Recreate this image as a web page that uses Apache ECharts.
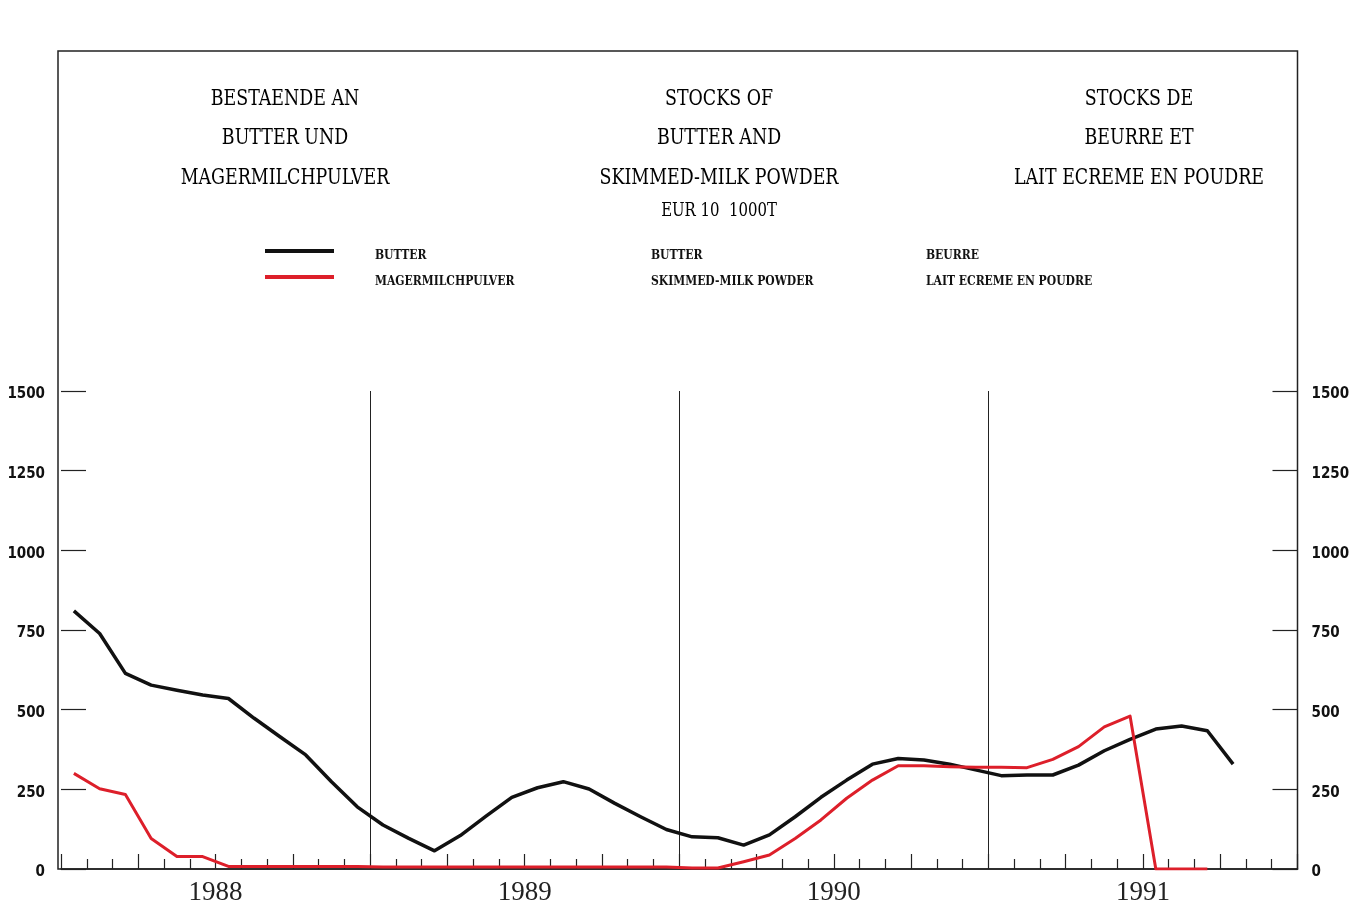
<!DOCTYPE html>
<html>
<head>
<meta charset="utf-8">
<script src="https://cdn.jsdelivr.net/npm/echarts@6/dist/echarts.min.js"></script>
<style>
html,body{margin:0;padding:0;background:#fff;}
#chart{width:1365px;height:904px;}
</style>
</head>
<body>
<div id="chart"></div>
<script>
// Monthly stocks, EUR 10, 1000 t; month 0 = January 1988 (points at mid-month)
const butter = [810, 739, 614, 577, 561, 546, 535, 473, 415, 358, 274, 195,
                138, 96, 57, 105, 166, 225, 255, 274, 251, 206, 164, 124,
                101, 98, 75, 107, 164, 225, 279, 329, 347, 342, 329, 311,
                293, 295, 295, 326, 371, 407, 439, 449, 434, 329];
const skimmedMilk = [300, 252, 234, 96, 39, 39, 8, 8, 8, 8, 8, 8,
                     6, 6, 6, 6, 6, 6, 6, 6, 6, 6, 6, 6,
                     3, 3, 23, 44, 96, 154, 222, 279, 324, 324, 321, 319,
                     319, 318, 344, 384, 446, 480, 0, 0, 0];
const yearLabels = {6: '1988', 18: '1989', 30: '1990', 42: '1991'};
const titleDE = ['BESTAENDE AN', 'BUTTER UND', 'MAGERMILCHPULVER'];
const titleEN = ['STOCKS OF', 'BUTTER AND', 'SKIMMED-MILK POWDER'];
const titleFR = ['STOCKS DE', 'BEURRE ET', 'LAIT ECREME EN POUDRE'];
const unitText = 'EUR 10  1000T';
const seriesNames = {
  butter: ['BUTTER', 'BUTTER', 'BEURRE'],
  milk: ['MAGERMILCHPULVER', 'SKIMMED-MILK POWDER', 'LAIT ECREME EN POUDRE']
};

const chart = echarts.init(document.getElementById('chart'));
const serifC = '"DejaVu Serif Condensed", "DejaVu Serif", serif';
const sansC = '"DejaVu Sans Condensed", "DejaVu Sans", sans-serif';
const titleFont = '22px ' + serifC;

function titleBlock(lines, cx) {
  return lines.map((t, k) => ({
    type: 'text', x: cx, y: 99 + k * 39.5, scaleX: 0.88,
    style: {text: t, textAlign: 'center', textVerticalAlign: 'middle',
            font: titleFont, fill: '#000'}
  }));
}

const graphics = [].concat(
  titleBlock(titleDE, 285),
  titleBlock(titleEN, 719),
  titleBlock(titleFR, 1139),
  [{type: 'text', x: 719, y: 211, scaleX: 0.92,
    style: {text: unitText, textAlign: 'center', textVerticalAlign: 'middle',
            font: '18px ' + serifC, fill: '#000'}},
   {type: 'rect', shape: {x: 58, y: 51, width: 1239.5, height: 818},
    style: {fill: 'none', stroke: '#222', lineWidth: 1.5}, z: 0}]
);

const legendMap = {
  'Butter': seriesNames.butter,
  'Magermilchpulver': seriesNames.milk
};
const legRich = w => ({width: w, fontFamily: serifC, fontWeight: 'bold', fontSize: 12, color: '#111'});

const valueAxisBase = {type: 'value', min: 0, max: 1500, interval: 250,
                       axisLine: {show: false}, splitLine: {show: false}};
const labelStyle = {
  formatter: v => '{v|' + v + '}',
  rich: {v: {fontSize: 15, fontWeight: 'bold', color: '#111', fontFamily: sansC,
             padding: [7, 0, 0, 0]}}
};

chart.setOption({
  backgroundColor: '#ffffff',
  animation: false,
  graphic: graphics,
  legend: {
    orient: 'vertical', left: 265, top: 249, padding: 0,
    itemWidth: 69, itemHeight: 4, itemGap: 13, icon: 'rect',
    data: ['Butter', 'Magermilchpulver'],
    formatter: name => {
      const n = legendMap[name];
      return '{a|' + n[0] + '}{b|' + n[1] + '}{c|' + n[2] + '}';
    },
    textStyle: {
      padding: [10, 0, 0, 36],
      fontFamily: serifC, fontWeight: 'bold', fontSize: 12, color: '#111',
      rich: {a: legRich(276), b: legRich(275), c: legRich(200)}
    }
  },
  grid: {left: 61, right: 67.5, top: 391, bottom: 35, outerBoundsMode: 'none', containLabel: false},
  xAxis: [{
    type: 'value', min: 0, max: 48, interval: 3,
    axisLine: {show: true, lineStyle: {color: '#222', width: 1.5}},
    axisTick: {show: true, inside: true, length: 15, lineStyle: {color: '#222', width: 1.2}},
    minorTick: {show: true, splitNumber: 3, length: 10, lineStyle: {color: '#222', width: 1.2}},
    splitLine: {show: false},
    axisLabel: {
      margin: 10, fontSize: 27, color: '#222',
      fontFamily: '"Liberation Serif", serif',
      formatter: v => yearLabels[v] || ''
    }
  }, {
    type: 'value', min: 0, max: 48, interval: 12, position: 'top',
    axisLine: {show: false}, axisTick: {show: false}, axisLabel: {show: false},
    splitLine: {show: true, showMinLine: false, showMaxLine: false,
                lineStyle: {color: '#222', width: 1}}
  }],
  yAxis: [
    Object.assign({}, valueAxisBase, {position: 'left', axisTick: {show: false},
      axisLabel: Object.assign({margin: 16}, labelStyle)}),
    Object.assign({}, valueAxisBase, {position: 'right', axisTick: {show: false},
      axisLabel: Object.assign({margin: 14}, labelStyle)}),
    Object.assign({}, valueAxisBase, {position: 'left', axisLabel: {show: false},
      axisTick: {show: true, inside: true, length: 25, lineStyle: {color: '#222', width: 1.2}}}),
    Object.assign({}, valueAxisBase, {position: 'right', axisLabel: {show: false},
      axisTick: {show: true, inside: true, length: 25, lineStyle: {color: '#222', width: 1.2}}})
  ],
  series: [{
    name: 'Butter', type: 'line', xAxisIndex: 0, yAxisIndex: 0,
    data: butter.map((v, i) => [i + 0.5, v]),
    showSymbol: false, symbol: 'none', color: '#111',
    lineStyle: {color: '#111', width: 3.5, join: 'round'}
  }, {
    name: 'Magermilchpulver', type: 'line', xAxisIndex: 0, yAxisIndex: 0,
    data: skimmedMilk.map((v, i) => [i + 0.5, v]),
    showSymbol: false, symbol: 'none', color: '#dd1f2a',
    lineStyle: {color: '#dd1f2a', width: 3, join: 'round'}
  }]
});
</script>
</body>
</html>
